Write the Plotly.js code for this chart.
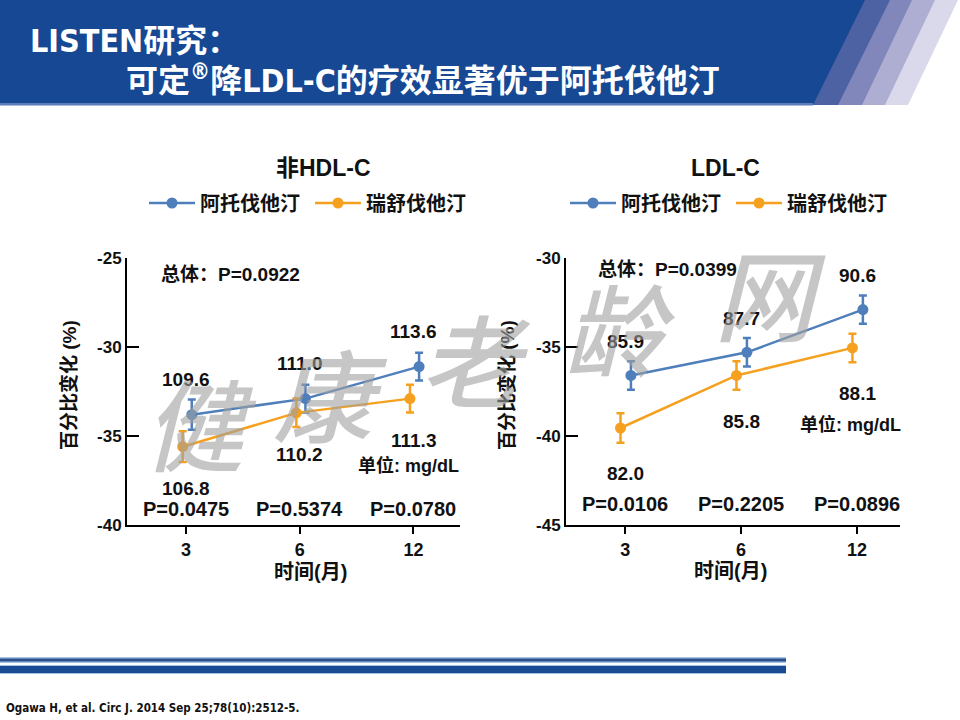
<!DOCTYPE html>
<html>
<head>
<meta charset="utf-8">
<script src="https://cdn.plot.ly/plotly-3.0.1.min.js"></script>
<style>html,body{margin:0;padding:0;background:#fff;}#chart{width:960px;height:720px;}</style>
</head>
<body>
<div id="chart"></div>
<script>
// ---------- data ----------
const months = ['3', '6', '12'];
const seriesNames = ['阿托伐他汀', '瑞舒伐他汀'];

// 非HDL-C percent change
const atorNonHDL = [-33.8, -32.9, -31.1];
const atorNonHDLErr = [0.85, 0.78, 0.78];
const rosuNonHDL = [-35.6, -33.7, -32.9];
const rosuNonHDLErr = [0.86, 0.8, 0.78];
const atorNonHDLmg = ['109.6', '111.0', '113.6'];
const rosuNonHDLmg = ['106.8', '110.2', '111.3'];
const pNonHDL = ['P=0.0475', 'P=0.5374', 'P=0.0780'];
const pNonHDLOverall = 'P=0.0922';

// LDL-C percent change
const atorLDL = [-36.6, -35.3, -32.9];
const atorLDLErr = [0.8, 0.8, 0.8];
const rosuLDL = [-39.55, -36.6, -35.05];
const rosuLDLErr = [0.83, 0.8, 0.8];
const atorLDLmg = ['85.9', '87.7', '90.6'];
const rosuLDLmg = ['82.0', '85.8', '88.1'];
const pLDL = ['P=0.0106', 'P=0.2205', 'P=0.0896'];
const pLDLOverall = 'P=0.0399';

const yTicksNonHDL = [-40, -35, -30, -25];
const yTicksLDL = [-45, -40, -35, -30];

// ---------- style ----------
const BLUE = '#4f7fbb';
const ORANGE = '#f5a01e';
const FONT = 'Liberation Sans, Arial, Noto Sans CJK SC, sans-serif';
const NARROW = 'Liberation Sans Narrow, Arial Narrow, DejaVu Sans Condensed, Noto Sans CJK SC, sans-serif';
const W = 960, H = 720;
const px = v => v / W;
const py = v => 1 - v / H;

function mkTrace(vals, errs, name, color, xa, ya, legend, offset) {
  return {
    type: 'scatter', mode: 'lines+markers', name: name,
    x: vals.map((_, i) => i + offset), y: vals,
    xaxis: xa, yaxis: ya, legend: legend,
    line: {color: color, width: 2.5},
    marker: {color: color, size: 11},
    error_y: {type: 'data', array: errs, visible: true, color: color, thickness: 2.5, width: 4}
  };
}

const traces = [
  mkTrace(atorNonHDL, atorNonHDLErr, seriesNames[0], BLUE, 'x', 'y', 'legend', 0.05),
  mkTrace(rosuNonHDL, rosuNonHDLErr, seriesNames[1], ORANGE, 'x', 'y', 'legend', -0.03),
  mkTrace(atorLDL, atorLDLErr, seriesNames[0], BLUE, 'x2', 'y2', 'legend2', 0.05),
  mkTrace(rosuLDL, rosuLDLErr, seriesNames[1], ORANGE, 'x2', 'y2', 'legend2', -0.04)
];

function xAxis(domain, range) {
  return {
    domain: domain, range: range, tickmode: 'array', tickvals: months.map((_, i) => i), ticktext: months,
    showline: true, linecolor: '#000', linewidth: 2, ticks: 'outside', ticklen: 7, tickwidth: 2, tickcolor: '#000',
    showgrid: false, zeroline: false, fixedrange: true,
    tickfont: {family: FONT, size: 18, color: '#111', weight: 'bold'}
  };
}
function yAxis(ticks, anchor) {
  return {
    domain: [py(525), py(258)], range: [ticks[0], ticks[ticks.length - 1]], anchor: anchor,
    tickmode: 'array', tickvals: ticks, ticktext: ticks.map(String),
    showline: true, linecolor: '#000', linewidth: 2, ticks: 'inside', ticklen: 12, tickwidth: 2, tickcolor: '#000',
    showgrid: false, zeroline: false, fixedrange: true,
    tickfont: {family: FONT, size: 17, color: '#111', weight: 'bold'}
  };
}

const annotations = [];
function txt(text, x, y, opts) {
  annotations.push(Object.assign({
    text: text, x: x, y: y, xref: 'paper', yref: 'paper', showarrow: false,
    xanchor: 'center', yanchor: 'middle',
    font: {family: FONT, size: 19, color: '#111'}
  }, opts || {}));
}

function panelLabels(xa, ya, atorVals, rosuVals, atorMg, rosuMg, pv, overall, overallPos, unitPos, pY, upShift, downShift) {
  months.forEach((m, i) => {
    txt('<b>' + atorMg[i] + '</b>', i, atorVals[i], {xref: xa, yref: ya, yshift: upShift});
    txt('<b>' + rosuMg[i] + '</b>', i, rosuVals[i], {xref: xa, yref: ya, yshift: -downShift});
    txt('<b>' + pv[i] + '</b>', i, pY, {xref: xa, yref: ya, font: {family: FONT, size: 20, color: '#111'}});
  });
  txt('<b>总体：' + overall + '</b>', overallPos[0], overallPos[1], {xref: xa, yref: ya, xanchor: 'left'});
  txt('<b>单位: mg/dL</b>', unitPos[0], unitPos[1], {xref: xa, yref: ya, font: {family: FONT, size: 18, color: '#111'}});
}

panelLabels('x', 'y', atorNonHDL, rosuNonHDL, atorNonHDLmg, rosuNonHDLmg, pNonHDL, pNonHDLOverall,
  [-0.24, -25.95], [1.96, -36.65], -39.1, 35, 42);
panelLabels('x2', 'y2', atorLDL, rosuLDL, atorLDLmg, rosuLDLmg, pLDL, pLDLOverall,
  [-0.25, -30.67], [1.94, -39.35], -43.8, 34, 46);

// panel titles and axis titles
txt('<b>非HDL-C</b>', px(323), py(168), {font: {family: FONT, size: 23, color: '#111'}});
txt('<b>LDL-C</b>', px(725), py(168), {font: {family: FONT, size: 23, color: '#111'}});
txt('<b>百分比变化 (%)</b>', px(69), py(385), {textangle: -90, font: {family: FONT, size: 19, color: '#111'}});
txt('<b>百分比变化 (%)</b>', px(507), py(385), {textangle: -90, font: {family: FONT, size: 19, color: '#111'}});
txt('<b>时间(月)</b>', px(310), py(572), {font: {family: FONT, size: 20, color: '#111'}});
txt('<b>时间(月)</b>', px(730), py(571), {font: {family: FONT, size: 20, color: '#111'}});

// header titles
txt('<b>LISTEN研究：</b>', px(28), py(41), {xanchor: 'left', font: {family: NARROW, size: 32, color: '#fff'}});
txt('<b>可定<sup>®</sup>降LDL-C的疗效显著优于阿托伐他汀</b>', px(124), py(79), {xanchor: 'left', font: {family: NARROW, size: 32, color: '#fff'}});

// footnote
txt('<b>Ogawa H, et al. Circ J. 2014 Sep 25;78(10):2512-5.</b>', px(4), py(708), {xanchor: 'left', font: {family: NARROW, size: 11.5, color: '#111'}});

// watermark
const wm = [['健', 200, 420], ['康', 330, 392], ['老', 475, 356], ['龄', 620, 326], ['网', 770, 290]];
wm.forEach(w => txt(w[0], px(w[1]), py(w[2]), {font: {family: 'Noto Sans CJK SC, sans-serif', size: 100, color: 'rgba(160,160,160,0.6)', style: 'italic', weight: 500}}));

// header / footer shapes (paper coordinates)
function poly(pts, color) {
  return {type: 'path', xref: 'paper', yref: 'paper', layer: 'below', line: {width: 0}, fillcolor: color,
    path: 'M' + pts.map(p => px(p[0]) + ',' + py(p[1])).join(' L') + ' Z'};
}
function rect(x0, y0, x1, y1, color) {
  return {type: 'rect', xref: 'paper', yref: 'paper', layer: 'below', line: {width: 0}, fillcolor: color,
    x0: px(x0), x1: px(x1), y0: py(y1), y1: py(y0)};
}
const shapes = [
  poly([[0, 0], [958, 0], [908, 105], [0, 105]], '#d9d9eb'),
  poly([[0, 0], [935, 0], [885, 105], [0, 105]], '#aeaed3'),
  poly([[0, 0], [912, 0], [862, 105], [0, 105]], '#8186bb'),
  poly([[0, 0], [890, 0], [838, 105], [0, 105]], '#4d62a3'),
  poly([[0, 0], [865, 0], [813, 105], [0, 105]], '#164894'),
  rect(0, 103, 813, 105.5, '#5a7cba'),
  rect(0, 657, 786, 663, '#a9c3e3'),
  rect(0, 658.5, 786, 661.5, '#2a4f8c'),
  rect(0, 665, 786, 674, '#a9c3e3'),
  rect(0, 666, 786, 673, '#1a4a94')
];

const legendBase = {orientation: 'h', xanchor: 'left', yanchor: 'middle', bgcolor: 'rgba(0,0,0,0)',
  itemwidth: 46, entrywidth: 105, entrywidthmode: 'pixels',
  font: {family: FONT, size: 20, color: '#111', weight: 'bold'}, itemclick: false, itemdoubleclick: false};

const layout = {
  width: W, height: H, margin: {l: 0, r: 0, t: 0, b: 0},
  paper_bgcolor: '#fff', plot_bgcolor: 'rgba(0,0,0,0)', showlegend: true,
  xaxis: Object.assign(xAxis([px(127), px(460)], [-0.52, 2.41]), {anchor: 'y'}),
  yaxis: yAxis(yTicksNonHDL, 'x'),
  xaxis2: Object.assign(xAxis([px(566), px(900)], [-0.51, 2.37]), {anchor: 'y2'}),
  yaxis2: yAxis(yTicksLDL, 'x2'),
  legend: Object.assign({}, legendBase, {x: px(144), y: py(203)}),
  legend2: Object.assign({}, legendBase, {x: px(565), y: py(203)}),
  annotations: annotations,
  shapes: shapes
};

Plotly.newPlot('chart', traces, layout, {displayModeBar: false, staticPlot: true});
</script>
</body>
</html>
